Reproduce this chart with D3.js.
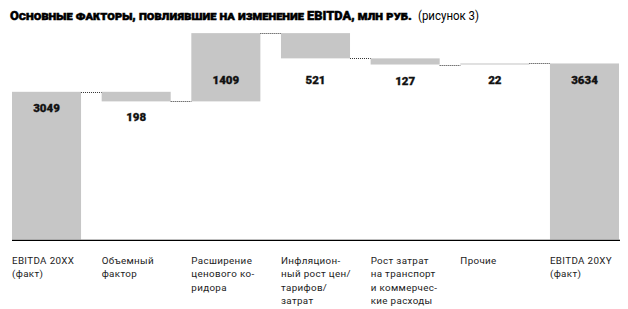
<!DOCTYPE html>
<html><head><meta charset="utf-8">
<script src="https://cdn.jsdelivr.net/npm/d3@7"></script>
<style>
html,body{margin:0;padding:0;background:#fff;}
svg{display:block;}
</style></head>
<body>
<svg id="chart" width="628" height="309"></svg>
<script>
const titleBold = "Основные факторы, повлиявшие на изменение EBITDA, млн руб.";
const titleNote = "(рисунок 3)";
const categories = [
  "EBITDA 20XX\n(факт)",
  "Объемный\nфактор",
  "Расширение\nценового ко-\nридора",
  "Инфляцион-\nный рост цен/\nтарифов/\nзатрат",
  "Рост затрат\nна транспорт\nи коммерчес-\nкие расходы",
  "Прочие",
  "EBITDA 20XY\n(факт)"
];
const values = [3049, -198, 1409, -521, -127, 22, 3634];
const isTotal = [true, false, false, false, false, false, true];

// build waterfall table
let level = 0;
const rows = categories.map((c, i) => {
  let start, end;
  if (isTotal[i]) { start = 0; end = values[i]; level = values[i]; }
  else { start = level; end = level + values[i]; level = end; }
  return {cat: c, value: values[i], start, end, total: isTotal[i]};
});

const svg = d3.select("#chart");
const x = d3.scaleBand().domain(d3.range(categories.length)).range([12, 619]).paddingInner(0.23).paddingOuter(0);
const y = d3.scaleLinear().domain([0, 4300]).range([239.5, 31.2]);

// title
svg.append("text").attr("x", 10).attr("y", 19.5).text(titleBold)
  .attr("font-family", "Roboto, 'DejaVu Sans', sans-serif").attr("font-weight", 900)
  .attr("font-size", 12.8).style("font-variant", "small-caps")
  .attr("stroke", "#000").attr("stroke-width", 0.45)
  .attr("textLength", 402).attr("lengthAdjust", "spacingAndGlyphs");
svg.append("text").attr("x", 418).attr("y", 19.5).text(titleNote)
  .attr("font-family", "Roboto, sans-serif").attr("font-size", 12)
  .attr("textLength", 61).attr("lengthAdjust", "spacingAndGlyphs");

// bars
svg.append("g").selectAll("rect").data(rows).join("rect")
  .attr("x", (d, i) => x(i))
  .attr("width", x.bandwidth())
  .attr("y", d => y(Math.max(d.start, d.end)))
  .attr("height", d => Math.abs(y(d.start) - y(d.end)))
  .attr("fill", "#c6c6c6");

// connectors
const conn = rows.slice(0, -1).map((d, i) => ({i, lvl: d.end}));
svg.append("g").selectAll("line").data(conn).join("line")
  .attr("x1", d => x(d.i) + x.bandwidth())
  .attr("x2", d => x(d.i + 1))
  .attr("y1", d => Math.round(y(d.lvl)) + 0.5)
  .attr("y2", d => Math.round(y(d.lvl)) + 0.5)
  .attr("stroke", "#333").attr("stroke-width", 1).attr("stroke-dasharray", "1,1");

// axis baseline
svg.append("line").attr("x1", 12).attr("x2", 620).attr("y1", 240.3).attr("y2", 240.3)
  .attr("stroke", "#000").attr("stroke-width", 1.3);

// value labels
svg.append("g").selectAll("text").data(rows).join("text")
  .attr("x", (d, i) => x(i) + x.bandwidth() / 2)
  .attr("y", d => Math.max(80, y(d.end) + 16) + 4)
  .attr("text-anchor", "middle")
  .attr("font-family", "Roboto, sans-serif").attr("font-weight", 900)
  .attr("font-size", 11.5).attr("fill", "#111")
  .attr("stroke", "#111").attr("stroke-width", 0.3)
  .text(d => Math.abs(d.value));

// category labels
const cg = svg.append("g").selectAll("text").data(rows).join("text")
  .attr("x", (d, i) => x(i))
  .attr("y", 264)
  .attr("font-family", "Roboto, sans-serif").attr("font-size", 9.8)
  .attr("letter-spacing", 0.35).attr("fill", "#222");
cg.selectAll("tspan").data(d => d.cat.split("\n").map(s => ({s}))).join("tspan")
  .attr("x", function() { return d3.select(this.parentNode).attr("x"); })
  .attr("dy", (d, j) => j === 0 ? 0 : 13.3)
  .text(d => d.s);
</script>
</body></html>
